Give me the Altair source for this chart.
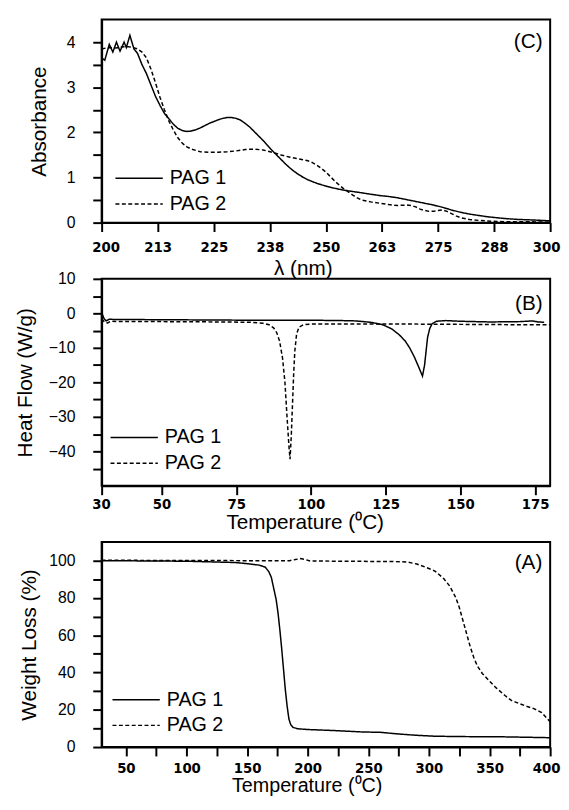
import altair as alt
import pandas as pd

# ---------------- Panel (C): UV absorbance ----------------
c_pag1_x = [200, 200.7, 201.7, 202.5, 203.3, 204.1, 205, 205.5, 206.3, 207.2, 208, 209, 210, 211, 212,
            213, 214, 215, 216, 217, 218, 219, 220, 221, 222, 223, 224, 225, 226, 227, 228, 229, 230,
            231, 232, 233, 234, 235, 236, 237, 238, 239, 240, 241, 242, 243, 244, 245, 246, 247, 248,
            249, 250, 252, 254, 256, 258, 260, 262, 264, 266, 268, 270, 272, 274, 276, 278, 280, 282,
            284, 286, 288, 290, 293, 296, 300]
c_pag1_y = [3.65, 3.6, 3.95, 3.78, 4.0, 3.8, 4.0, 3.88, 4.15, 3.85, 3.75, 3.5, 3.3, 3.05, 2.8,
            2.6, 2.42, 2.3, 2.18, 2.09, 2.04, 2.02, 2.03, 2.06, 2.1, 2.15, 2.2, 2.24, 2.28, 2.31, 2.33,
            2.33, 2.31, 2.27, 2.2, 2.12, 2.02, 1.92, 1.82, 1.71, 1.6, 1.5, 1.4, 1.3, 1.21, 1.13, 1.06,
            1.0, 0.95, 0.91, 0.87, 0.84, 0.81, 0.76, 0.72, 0.69, 0.66, 0.63, 0.6, 0.58, 0.55, 0.51,
            0.47, 0.43, 0.39, 0.34, 0.28, 0.23, 0.19, 0.16, 0.13, 0.11, 0.09, 0.07, 0.06, 0.04]
c_pag2_x = [200, 201, 202, 203, 204, 205, 206, 207, 208, 209, 210, 211, 212, 213, 214, 215, 216, 217,
            218, 219, 220, 221, 222, 224, 226, 228, 230, 232, 234, 236, 238, 240, 242, 244, 246, 247,
            248, 249, 250, 251, 252, 253, 254, 255, 256, 257, 258, 260, 262, 264, 266, 268, 269, 270,
            271, 272, 273, 274, 275, 276, 277, 278, 279, 280, 282, 284, 287, 290, 295, 300]
c_pag2_y = [3.85, 3.87, 3.88, 3.87, 3.88, 3.9, 3.9, 3.88, 3.85, 3.78, 3.65, 3.4, 3.1, 2.78, 2.5, 2.25,
            2.05, 1.88, 1.76, 1.68, 1.63, 1.6, 1.57, 1.56, 1.56, 1.57, 1.59, 1.62, 1.63, 1.61, 1.56,
            1.5, 1.45, 1.41, 1.37, 1.33, 1.27, 1.2, 1.12, 1.02, 0.92, 0.83, 0.75, 0.68, 0.61, 0.55,
            0.5, 0.46, 0.43, 0.4, 0.38, 0.39, 0.38, 0.35, 0.3, 0.27, 0.25, 0.25, 0.27, 0.28, 0.25,
            0.2, 0.15, 0.11, 0.07, 0.05, 0.03, 0.02, 0.02, 0.01]

# ---------------- Panel (B): DSC heat flow ----------------
b_pag1_x = [30, 30.8, 31.5, 32.5, 35, 40, 60, 80, 100, 110, 115, 120, 124, 127, 129.5, 131.5, 133,
            134.5, 136, 137.3, 138, 138.5, 139, 139.7, 140.5, 142, 145, 150, 160, 170, 174, 176, 178]
b_pag1_y = [0.2, -1.5, -2.2, -1.7, -1.8, -1.8, -1.9, -2.0, -2.0, -2.1, -2.2, -2.6, -3.3, -4.5, -6.2,
            -8.0, -10.0, -12.5, -15.5, -18.2, -15.0, -11.0, -7.0, -4.5, -3.0, -2.3, -2.1, -2.3, -2.5,
            -2.4, -2.2, -2.5, -2.6]
b_pag2_x = [30, 31, 32, 33, 35, 50, 70, 80, 84, 86, 87.5, 88.5, 89.5, 90.5, 91.3, 92, 92.6, 93.0, 93.4,
            93.8, 94.2, 94.6, 95.2, 96, 97.5, 100, 110, 130, 150, 170, 180]
b_pag2_y = [-1.6, -2.6, -2.8, -2.3, -2.4, -2.4, -2.5, -2.6, -2.9, -3.3, -4.2, -5.5, -8.0, -13.0, -20.0,
            -30.0, -38.0, -42.3, -36.0, -27.0, -18.0, -11.0, -6.0, -4.0, -3.3, -3.1, -3.1, -3.1, -3.2,
            -3.3, -3.3]

# ---------------- Panel (A): TGA weight loss ----------------
a_pag1_x = [30, 100, 140, 150, 160, 165, 168, 170, 172, 174, 175.5, 177, 178.5, 180, 181.5, 183, 184.5,
            186, 188, 192, 200, 220, 245, 260, 275, 290, 305, 330, 360, 393, 400]
a_pag1_y = [100, 99.7, 99, 98.4, 97.6, 96.5, 94, 91, 85, 79, 72, 63, 53, 42, 31, 22, 15, 12, 10.5, 9.8,
            9.4, 8.9, 8.1, 7.9, 7.0, 6.3, 5.8, 5.6, 5.5, 5.1, 5.0]
a_pag2_x = [30, 100, 150, 185, 190, 194, 198, 202, 230, 272, 282, 290, 298, 305, 312, 317, 322, 325,
            328, 331, 334, 337, 340, 344, 349, 355, 363, 368, 372, 380, 387, 393, 398, 400]
a_pag2_y = [100.2, 100.1, 100, 100, 100.6, 101.1, 100.6, 99.8, 99.7, 99.5, 99.3, 98.2, 96.3, 94.4, 90.5,
            86.5, 80.4, 75, 68, 61, 54, 48, 43.4, 39.5, 36, 32, 27.5, 25, 24, 22, 20.5, 18.5, 15, 13.5]

# axis tick values
c_xticks = [200, 212.5, 225, 237.5, 250, 262.5, 275, 287.5, 300]
c_yticks = [0, 0.5, 1, 1.5, 2, 2.5, 3, 3.5, 4]
b_xticks = [30, 50, 75, 100, 125, 150, 175]
b_yticks = [-45, -40, -35, -30, -25, -20, -15, -10, -5, 0, 5, 10]
a_xticks = [50, 75, 100, 125, 150, 175, 200, 225, 250, 275, 300, 325, 350, 375, 400]
a_yticks = [0, 10, 20, 30, 40, 50, 60, 70, 80, 90, 100]

# panel tags (placed in data coordinates)
tag_text = ["(C)", "(B)", "(A)"]
tag_x = [298.3, 177.5, 393.5]
tag_y = [4.0, 2.7, 98.9]

series_names = ["PAG 1", "PAG 2"]

FONT = "Liberation Sans, Arial, Helvetica, sans-serif"
XFONT = "DejaVu Sans Condensed"
W = 455


def long_df(x1, y1, x2, y2):
    d1 = pd.DataFrame({"x": x1, "y": y1, "series": series_names[0]})
    d2 = pd.DataFrame({"x": x2, "y": y2, "series": series_names[1]})
    return pd.concat([d1, d2], ignore_index=True)


def make_panel(df, tag_i, xdom, ydom, xvals, yvals, xlabel_expr, ylabel_expr, xtitle, ytitle,
               x_title_x, y_title_pad, x_label_pad, x_title_pad, leg_x, leg_y, h,
               x_title_size=21):
    xaxis = alt.Axis(values=xvals, labelExpr=xlabel_expr, title=xtitle,
                     labelFont=XFONT, labelFontWeight="bold", labelFontSize=15,
                     labelPadding=x_label_pad, titleFont=FONT, titleFontSize=x_title_size,
                     titleFontWeight="normal", titlePadding=x_title_pad, titleX=x_title_x,
                     tickSize=9, tickWidth=2, tickColor="black", domainColor="black",
                     domainWidth=2, labelColor="black", titleColor="black", grid=False,
                     labelFlush=True, labelFlushOffset=10)
    yaxis = alt.Axis(values=yvals, labelExpr=ylabel_expr, title=ytitle,
                     labelFont=FONT, labelFontSize=16, labelPadding=18,
                     titleFont=FONT, titleFontSize=21, titleFontWeight="normal",
                     titlePadding=y_title_pad, tickSize=9, tickWidth=2, tickColor="black",
                     domainColor="black", domainWidth=2, labelColor="black", titleColor="black",
                     grid=False, labelFlush=False)
    xs = alt.Scale(domain=xdom, nice=False, zero=False)
    ys = alt.Scale(domain=ydom, nice=False, zero=False)
    dash_scale = alt.Scale(domain=series_names, range=[[1, 0], [4, 2.5]])
    lines = alt.Chart(df).mark_line(color="black", strokeWidth=1.5).encode(
        x=alt.X("x:Q", scale=xs, axis=xaxis),
        y=alt.Y("y:Q", scale=ys, axis=yaxis),
        strokeDash=alt.StrokeDash(
            "series:N", scale=dash_scale,
            legend=alt.Legend(title=None, orient="none", legendX=leg_x, legendY=leg_y,
                              symbolType="M-2,0H2", symbolSize=576, symbolStrokeWidth=1.5,
                              symbolStrokeColor="black", labelFont=FONT, labelFontSize=20,
                              labelColor="black", labelOffset=18, rowPadding=3, padding=0)),
    )
    tag_df = pd.DataFrame({"x": [tag_x[tag_i]], "y": [tag_y[tag_i]], "label": [tag_text[tag_i]]})
    tag = alt.Chart(tag_df).mark_text(align="right", baseline="middle", font=FONT, fontSize=21,
                                      color="black").encode(
        x=alt.X("x:Q", scale=xs, axis=xaxis),
        y=alt.Y("y:Q", scale=ys, axis=yaxis),
        text="label:N",
    )
    return alt.layer(lines, tag).properties(width=W, height=h)


panel_c = make_panel(
    long_df(c_pag1_x, c_pag1_y, c_pag2_x, c_pag2_y), 0,
    [200, 300], [0, 4.5], c_xticks, c_yticks,
    "format(round(datum.value), 'd')",
    "datum.value % 1 === 0 ? format(datum.value, 'd') : ''",
    "λ (nm)", "Absorbance", 204, 17, 8, 4, 25, 148, 206)

panel_b = make_panel(
    long_df(b_pag1_x, b_pag1_y, b_pag2_x, b_pag2_y), 1,
    [30, 180], [-50, 10], b_xticks, b_yticks,
    "format(datum.value, 'd')",
    "datum.value % 10 === 0 ? format(datum.value, 'd') : ''",
    "Temperature (⁰C)", "Heat Flow (W/g)", 206, 13, 2, 0, 20, 148, 210)

panel_a = make_panel(
    long_df(a_pag1_x, a_pag1_y, a_pag2_x, a_pag2_y), 2,
    [30, 400], [0, 110], a_xticks, a_yticks,
    "datum.value % 50 === 0 ? format(datum.value, 'd') : ''",
    "datum.value % 20 === 0 ? format(datum.value, 'd') : ''",
    "Temperature (⁰C)", "Weight Loss (%)", 208, 9, 5, 0, 22, 147, 208,
    x_title_size=20)

chart = alt.vconcat(
    panel_c, panel_b, panel_a, spacing=57, bounds="flush", background="white",
    padding={"left": 5, "top": 5, "right": 0, "bottom": 0},
).resolve_scale(strokeDash="independent").resolve_legend(strokeDash="independent").configure_view(
    stroke="black", strokeWidth=2
).configure_axis(
    domainColor="black", domainWidth=2, tickColor="black", tickWidth=2
)

chart.save("out.html", embed_options={"renderer": "svg", "actions": False})
